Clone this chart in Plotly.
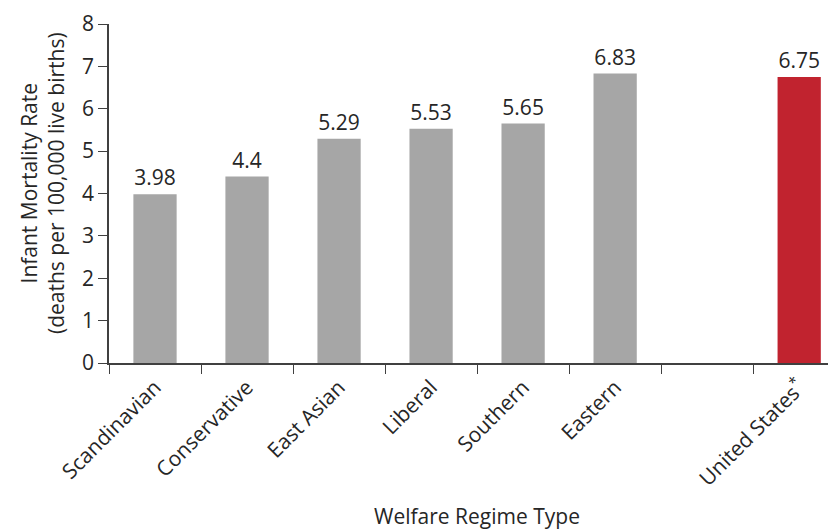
import plotly.graph_objects as go

categories = ["Scandinavian", "Conservative", "East Asian", "Liberal", "Southern", "Eastern", " ", "United States<sup>*</sup>"]
values = [3.98, 4.4, 5.29, 5.53, 5.65, 6.83, None, 6.75]
labels = ["3.98", "4.4", "5.29", "5.53", "5.65", "6.83", "", "6.75"]
colors = ["#a6a6a6"] * 7 + ["#c1232f"]

FONT = "'Open Sans', 'Noto Sans', sans-serif"
TXT = "#262626"
AX = "#404040"

L, R, T, B = 101, 8, 16, 176
W, H = 836, 531
plot_w = W - L - R
plot_h = H - T - B

fig = go.Figure(go.Bar(
    x=categories, y=values, text=labels, textposition="outside",
    marker=dict(color=colors, line=dict(width=0)),
    width=0.47, cliponaxis=False,
    textfont=dict(size=21, color=TXT, family=FONT),
))

fig.update_layout(
    width=W, height=H,
    margin=dict(l=L, r=R, t=T, b=B),
    plot_bgcolor="white", paper_bgcolor="white",
    font=dict(family=FONT, color=TXT),
    showlegend=False,
    xaxis=dict(
        type="category", range=[-0.5, 7.4], tickson="boundaries", automargin=False,
        ticks="outside", ticklen=9, tickwidth=1.2, tickcolor=AX,
        showline=True, linecolor=AX, linewidth=1.5,
        tickangle=-45, tickfont=dict(size=21, color=TXT, family=FONT),
        ticklabelstandoff=2,
        showgrid=False,
    ),
    yaxis=dict(
        range=[0, 8], dtick=1, ticks="outside", ticklen=9, tickwidth=1.2, tickcolor=AX,
        showline=True, linecolor=AX, linewidth=1.5, automargin=False,
        tickfont=dict(size=21, color=TXT, family=FONT),
        showgrid=False, zeroline=False,
    ),
    annotations=[
        dict(text="Welfare Regime Type", xref="paper", yref="paper",
             x=(477 - 8 - L) / plot_w, y=-(516 - 8 - (T + plot_h)) / plot_h,
             xanchor="center", yanchor="middle", showarrow=False,
             font=dict(size=21, color=TXT, family=FONT)),
        dict(text="Infant Mortality Rate<br>(deaths per 100,000 live births)",
             xref="paper", yref="paper",
             x=(43 - 8 - L) / plot_w, y=(T + plot_h - (183 - 8)) / plot_h,
             xanchor="center", yanchor="middle", textangle=-90, showarrow=False,
             font=dict(size=21, color=TXT, family=FONT)),
    ],
)

fig.write_html("out.html")
